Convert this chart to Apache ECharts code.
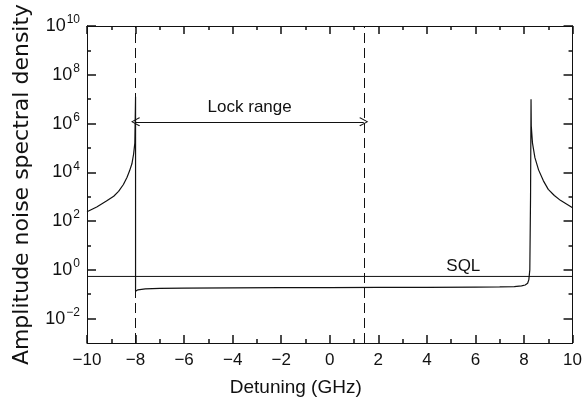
<!DOCTYPE html>
<html>
<head>
<meta charset="utf-8">
<script src="https://cdn.jsdelivr.net/npm/echarts@6/dist/echarts.min.js"></script>
<style>
  html, body { margin: 0; padding: 0; background: #fff; }
  #chart { width: 585px; height: 402px; }
</style>
</head>
<body>
<div id="chart"></div>
<script>
// detuning (GHz) and log10 of amplitude noise spectral density
const detuning = [
  -10, -9.6, -9.2, -8.9, -8.7, -8.5, -8.35, -8.25, -8.15, -8.08, -8.03, -8.0,
  -8.0, -7.9, -7.6, -7, -6, -4, -2, 0, 2, 4, 6, 7, 7.6, 7.9, 8.05, 8.15, 8.2, 8.24, 8.27, 8.29,
  8.3, 8.35, 8.45, 8.6, 8.8, 9.0, 9.25, 9.5, 9.75, 10
];
const noiseLog10 = [
  2.38, 2.58, 2.82, 3.02, 3.22, 3.5, 3.8, 4.05, 4.35, 4.75, 5.2, 7.1,
  -0.88, -0.82, -0.78, -0.76, -0.75, -0.74, -0.73, -0.73, -0.72, -0.72, -0.71, -0.70, -0.69, -0.66, -0.62, -0.55, -0.4, 0, 3, 7.0,
  5.9, 5.2, 4.6, 4.1, 3.65, 3.3, 3.05, 2.85, 2.7, 2.55
];
const sqlLog10 = -0.27;          // standard quantum limit level
const lockRange = [-8, 1.4];      // GHz
const lockArrowLog10 = 6.07;
const xTicks = [-10, 10, 2];
const yMajor = [-2, 0, 2, 4, 6, 8, 10];
const yMinor = [-1, 1, 3, 5, 7, 9];
const yRange = [-3, 10];

const chart = echarts.init(document.getElementById('chart'));
const FONT = 'Liberation Sans';
const INK = '#111';
const TICK_W = 1.5;

// one y axis per tick length and side; they all share the same scale
const yTicks = (pos, values, len, labels) => ({
  type: 'value', position: pos, min: yRange[0], max: yRange[1],
  axisLine: { show: true, onZero: false, lineStyle: { color: INK, width: 1 } },
  splitLine: { show: false },
  axisTick: { show: true, inside: true, length: len, customValues: values, lineStyle: { color: INK, width: TICK_W } },
  axisLabel: labels ? {
    show: true, customValues: values, margin: 7,
    formatter: v => `{b|10}{e|${v < 0 ? '−' + (-v) : v}}`,
    rich: {
      b: { fontFamily: FONT, fontSize: 18, color: INK },
      e: { fontFamily: FONT, fontSize: 12, color: INK, padding: [0, 0, 12, 1] }
    }
  } : { show: false }
});
const xBase = pos => ({
  type: 'value', position: pos, min: xTicks[0], max: xTicks[1], interval: xTicks[2],
  axisLine: { show: true, onZero: false, lineStyle: { color: INK, width: 1 } },
  splitLine: { show: false },
  axisTick: { show: true, inside: true, length: 8, lineStyle: { color: INK, width: TICK_W } },
  minorTick: { show: true, splitNumber: 2, length: 4, lineStyle: { color: INK, width: TICK_W } }
});

const option = {
  animation: false,
  backgroundColor: '#fff',
  grid: { left: 87, right: 10, top: 26, bottom: 59 },
  xAxis: [
    Object.assign(xBase('bottom'), {
      name: 'Detuning (GHz)', nameLocation: 'middle', nameGap: 35,
      nameTextStyle: { fontFamily: FONT, fontSize: 19, color: INK, padding: [0, 68, 0, 0] },
      axisLabel: {
        margin: 9, fontFamily: FONT, fontSize: 17, color: INK,
        formatter: v => String(v).replace('-', '−')
      }
    }),
    Object.assign(xBase('top'), { axisLabel: { show: false } })
  ],
  yAxis: [
    Object.assign(yTicks('left', yMajor, 9, true), {
      name: 'Amplitude noise spectral density', nameLocation: 'middle', nameGap: 54,
      nameTextStyle: { fontFamily: 'DejaVu Sans', fontSize: 22, color: INK }
    }),
    yTicks('left', yMinor, 4, false),
    yTicks('right', yMajor, 9, false),
    yTicks('right', yMinor, 4, false)
  ],
  series: [
    {
      type: 'line',
      data: detuning.map((x, i) => [x, noiseLog10[i]]),
      showSymbol: false,
      lineStyle: { color: INK, width: 1.2 },
      silent: true,
      markLine: {
        silent: true,
        symbol: 'none',
        label: { show: false },
        lineStyle: { color: INK, width: 1, type: [10, 5] },
        data: lockRange.map(x => ({ xAxis: x }))
      }
    },
    {
      type: 'line',
      data: [[xTicks[0], sqlLog10], [xTicks[1], sqlLog10]],
      showSymbol: false,
      lineStyle: { color: INK, width: 1 },
      silent: true,
      markPoint: {
        symbol: 'circle', symbolSize: 0,
        label: {
          show: true, formatter: 'SQL', fontFamily: FONT, fontSize: 17, color: INK,
          position: 'top', distance: 2
        },
        data: [{ coord: [5.5, sqlLog10] }]
      },
      markLine: {
        silent: true,
        symbol: ['path://M0,0 L6,9 L5,10 L0,2 L-5,10 L-6,9 Z', 'path://M0,0 L6,9 L5,10 L0,2 L-5,10 L-6,9 Z'],
        symbolSize: [9, 9],
        lineStyle: { color: INK, width: 1, type: 'solid' },
        label: {
          show: true, formatter: 'Lock range', position: 'middle', distance: 6,
          fontFamily: FONT, fontSize: 17, color: INK
        },
        data: [[
          { coord: [lockRange[0], lockArrowLog10] },
          { coord: [lockRange[1], lockArrowLog10] }
        ]]
      }
    }
  ]
};

chart.setOption(option);
</script>
</body>
</html>
